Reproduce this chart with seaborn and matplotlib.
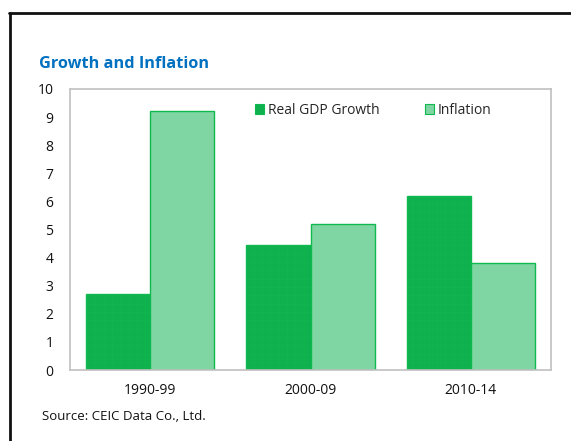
import matplotlib
matplotlib.use("Agg")
import matplotlib.pyplot as plt
import matplotlib.lines as mlines
import pandas as pd
import seaborn as sns

periods = ["1990-99", "2000-09", "2010-14"]
gdp_growth = [2.7, 4.45, 6.2]
inflation = [9.2, 5.2, 3.8]
series_names = ["Real GDP Growth", "Inflation"]
y_ticks = list(range(0, 11))

df = pd.DataFrame({
    "period": periods * 2,
    "value": gdp_growth + inflation,
    "series": [series_names[0]] * len(periods) + [series_names[1]] * len(periods),
})

sns.set_theme(style="white")
plt.rcParams["font.family"] = ["Open Sans", "DejaVu Sans"]
plt.rcParams["hatch.color"] = "#3fc873"
plt.rcParams["hatch.linewidth"] = 0.4

fig = plt.figure(figsize=(5.71, 4.41), dpi=100)
ax = fig.add_axes([70 / 571, 71 / 441, 481 / 571, 281 / 441])

palette = {series_names[0]: "#0fb14e", series_names[1]: "#7fd6a3"}
sns.barplot(data=df, x="period", y="value", hue="series", palette=palette,
            width=0.8, saturation=1, ax=ax, legend=False)

edge_green = "#10b850"
for i, patch in enumerate(ax.patches):
    patch.set_edgecolor(edge_green)
    patch.set_linewidth(1.0)
    if i < len(periods):
        patch.set_hatch("++")

ax.set_ylim(0, 10)
ax.set_yticks(y_ticks)
ax.set_yticklabels([str(t) for t in y_ticks], fontsize=10, color="#111111")
ax.tick_params(axis="x", labelsize=10, colors="#111111", pad=9, length=0)
ax.tick_params(axis="y", length=0, pad=12)
ax.set_xlabel("")
ax.set_ylabel("")
for spine in ax.spines.values():
    spine.set_color("#c0c0c0")
    spine.set_linewidth(1.2)

handles = [
    plt.Rectangle((0, 0), 1, 1, facecolor=palette[s], edgecolor=edge_green, linewidth=0.8)
    for s in series_names
]
ax.legend(handles, series_names, loc="upper center", bbox_to_anchor=(0.631, 1.0),
          ncol=2, frameon=False, fontsize=10, handlelength=0.6, handleheight=0.7,
          handletextpad=0.3, columnspacing=3.3, borderaxespad=0.6)

fig.text(39 / 571, 1 - 64 / 441, "Growth and Inflation", fontsize=11.7,
         fontweight="bold", color="#0070c0", va="center", ha="left")
fig.text(42 / 571, 1 - 416 / 441, "Source: CEIC Data Co., Ltd.", fontsize=9.5,
         color="#111111", va="center", ha="left")

# outer frame: top and left rules
fig.add_artist(mlines.Line2D([9 / 571, 1.0], [1 - 12.5 / 441] * 2,
                             color="#111111", linewidth=2, transform=fig.transFigure))
fig.add_artist(mlines.Line2D([9.5 / 571] * 2, [0, 1 - 12.5 / 441],
                             color="#111111", linewidth=2, transform=fig.transFigure))

fig.savefig("out.png", dpi=100)
